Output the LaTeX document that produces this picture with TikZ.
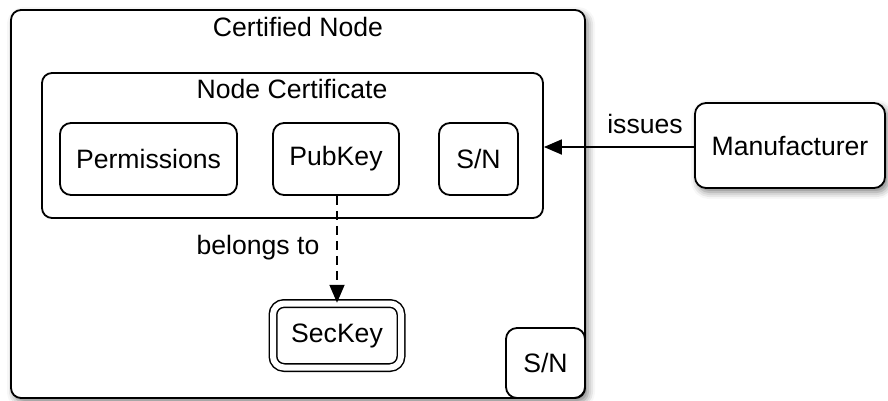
\documentclass[tikz,border=0pt]{standalone}
\usepackage{fontspec}
\setmainfont{Liberation Sans}
\usetikzlibrary{arrows.meta,shadows.blur}
\begin{document}
\begin{tikzpicture}[x=1pt,y=-1pt,
  every node/.style={font=\fontsize{26.6}{31}\selectfont},
  box/.style={draw, line width=1.8pt, rounded corners=11pt, fill=white,
    inner sep=0pt, minimum width=#1},
  box/.default=80pt,
  shade/.style={blur shadow={shadow xshift=3pt, shadow yshift=-4pt,
    shadow blur radius=7pt, shadow opacity=50}},
  label/.style={inner sep=0pt},
  link/.style={line width=1.8pt, -{Triangle[length=18pt,width=15pt]}}
]
\useasboundingbox (0,0) rectangle (888,400);

% enclosing node with its certificate
\node[box=574pt, minimum height=388pt, rounded corners=10pt, shade] (node) at (298,204) {};
\node[label] (nodetitle) at (298,27) {Certified Node};
\node[box=501pt, minimum height=145pt, rounded corners=10pt] (cert) at (292.5,145.5) {};
\node[label] (certtitle) at (292,89) {Node Certificate};

% certificate fields
\node[box=177pt, minimum height=72pt] (perm) at (148.5,159) {Permissions};
\node[box=126pt, minimum height=72pt] (pub) at (336,159) {PubKey};
\node[box=79pt, minimum height=72pt] (sncert) at (478.5,159) {S/N};

% secret key and serial number of the node
\node[box=128pt, minimum height=64pt, double, double distance=6pt, line width=1.5pt] (sec) at (337,335.5) {SecKey};
\node[box=79pt, minimum height=70pt] (sn) at (545.5,363) {S/N};

% issuer
\node[box=190pt, minimum height=85pt, shade] (man) at (790,145.5) {Manufacturer};

% relations
\draw[link] (man.west |- 0,147) -- (cert.east |- 0,147);
\node[label] (issues) at (645,124) {issues};
\draw[link, dash pattern=on 9pt off 6pt] (pub.south -| 337,0) -- (sec.north -| 337,0);
\node[label] (belongs) at (258,248) {belongs to};
\end{tikzpicture}
\end{document}
